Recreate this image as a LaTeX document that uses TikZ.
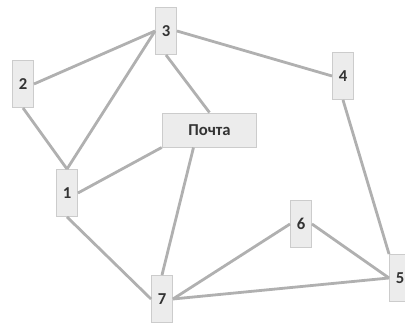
\documentclass[tikz,border=0pt]{standalone}
\usepackage{fontspec}
\setmainfont{Carlito}
\begin{document}
\begin{tikzpicture}[x=0.75pt,y=-0.75pt,
  nodebox/.style={draw=gray!40,fill=gray!15,line width=0.7pt,minimum width=15.75pt,minimum height=35.25pt,inner sep=0pt,text=black!80,font=\fontsize{12.5}{14}\selectfont\bfseries},
  mailbox/.style={draw=gray!40,fill=gray!15,line width=0.7pt,minimum width=71pt,minimum height=25.5pt,inner sep=0pt,text=black!80,font=\fontsize{12.5}{14}\selectfont\bfseries},
  link/.style={draw=gray!62,line width=2.1pt}]
\useasboundingbox (0,0) rectangle (405,324);
\clip (0,0) rectangle (405,324);
\node[nodebox] (n3) at (166,31) {3};
\node[nodebox] (n2) at (23,84) {2};
\node[nodebox] (n4) at (343,76) {4};
\node[mailbox] (p) at (209.5,130) {Почта};
\node[nodebox] (n1) at (67,193) {1};
\node[nodebox] (n6) at (301,224) {6};
\node[nodebox] (n7) at (162,299) {7};
\node[nodebox] (n5) at (400,278) {5};
\draw[link] (n3.west) -- (n2.east);
\draw[link] (n3.west) -- (n1.north);
\draw[link] (n3.east) -- (n4.west);
\draw[link] (n3.south) -- (p.north);
\draw[link] (n2.south) -- (n1.north);
\draw[link] (n1.east) -- (p.south west);
\draw[link] (n1.south) -- (n7.west);
\draw[link] ([xshift=-12pt]p.south) -- (n7.north);
\draw[link] (n4.south) -- (n5.north west);
\draw[link] (n7.east) -- (n6.west);
\draw[link] (n6.east) -- (n5.west);
\draw[link] (n7.east) -- (n5.west);
\end{tikzpicture}
\end{document}
